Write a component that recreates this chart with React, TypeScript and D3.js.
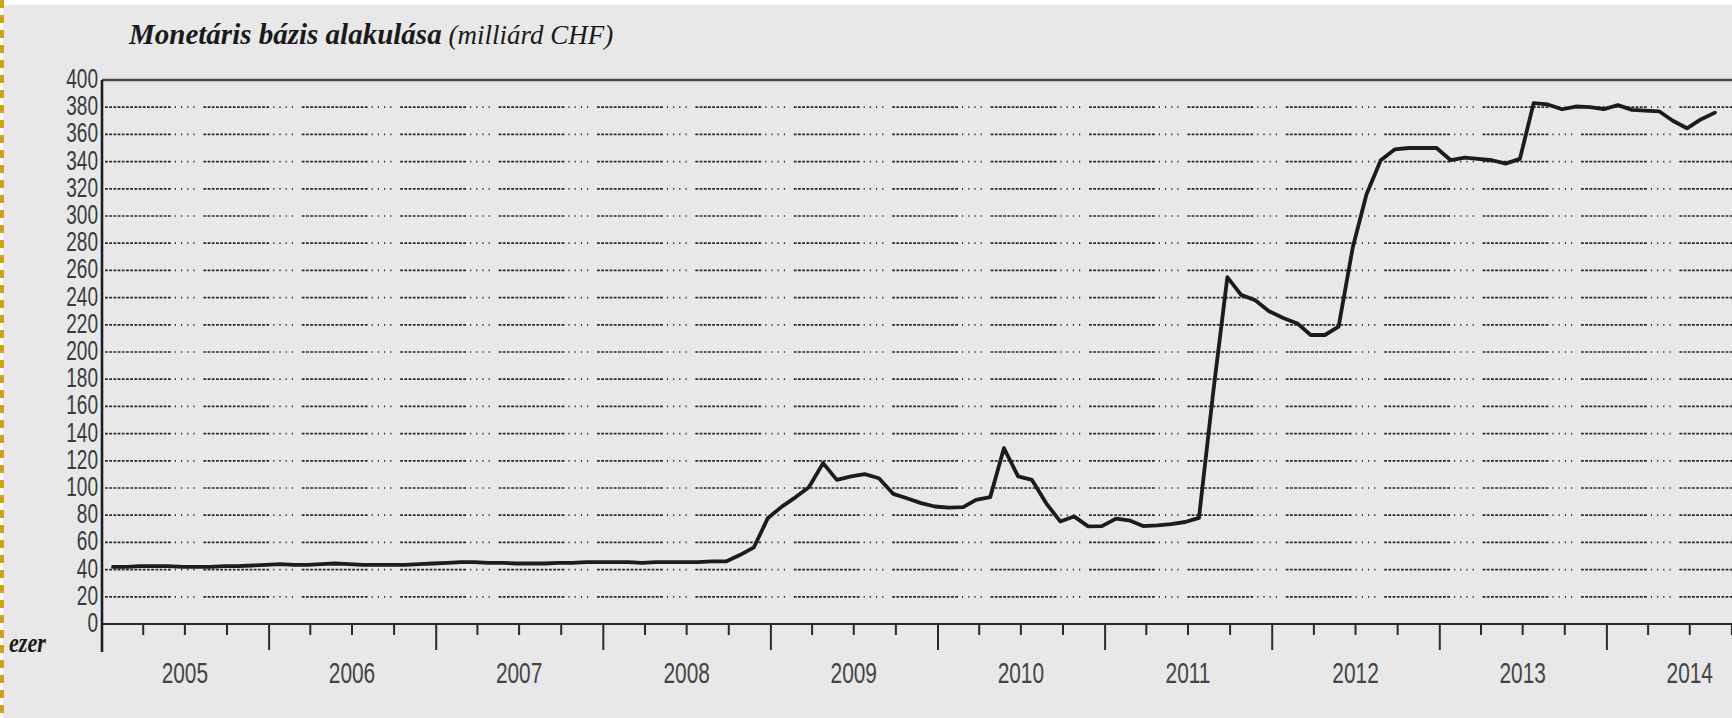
import React from 'react';
import * as d3 from 'd3';

// Monthly values, Jan 2005 .. Aug 2014 (milliárd CHF)
const values2005 = [42, 42, 42.5, 42.5, 42.5, 42, 42, 42, 42.5, 42.5, 43, 43.5];
const values2006 = [44, 43.5, 43.5, 44, 44.5, 44, 43.5, 43.5, 43.5, 43.5, 44, 44.5];
const values2007 = [45, 45.5, 45.5, 45, 45, 44.5, 44.5, 44.5, 45, 45, 45.5, 45.5];
const values2008 = [45.5, 45.5, 45, 45.5, 45.5, 45.5, 45.5, 46, 46, 50.7, 56.4, 77.7];
const values2009 = [86.3, 93.5, 100.5, 118.3, 106, 108.5, 110.2, 107.2, 95.7, 92.5, 88.9, 86.4];
const values2010 = [85.5, 85.9, 91.3, 93.3, 129.3, 108.5, 106, 88.9, 75.4, 79.1, 71.8, 72];
const values2011 = [77.5, 76, 72, 72.5, 73.5, 75, 78, 170, 255, 242, 238, 230];
const values2012 = [225, 221, 212.5, 212.5, 218.6, 277, 316, 341, 349, 350, 350, 350];
const values2013 = [341, 343, 342, 341, 338.5, 342, 383, 382, 378.5, 380.5, 380, 378.5];
const values2014 = [381.5, 378, 377.5, 377, 370, 364.5, 371, 376];

const values = [
  ...values2005, ...values2006, ...values2007, ...values2008, ...values2009,
  ...values2010, ...values2011, ...values2012, ...values2013, ...values2014,
];

const years = [2005, 2006, 2007, 2008, 2009, 2010, 2011, 2012, 2013, 2014];
const yTicks = [0, 20, 40, 60, 80, 100, 120, 140, 160, 180, 200, 220, 240, 260, 280, 300, 320, 340, 360, 380, 400];
const gridValues = yTicks.filter((v) => v > 0 && v < 400);

const W = 1732;
const H = 718;
const left = 102;
const top = 80;
const bottom = 624;
const yearWidth = 167.2;

const x = d3
  .scaleTime()
  .domain([new Date(2005, 0, 1), new Date(2015, 0, 1)])
  .range([left, left + yearWidth * 10]);
const y = d3.scaleLinear().domain([0, 400]).range([bottom, top]);

const line = d3
  .line<number>()
  .x((_, i) => x(new Date(2005, i, 25)))
  .y((d) => y(d))
  .curve(d3.curveLinear);

const quarterTicks = d3.timeMonth
  .every(3)!
  .range(new Date(2005, 3, 1), new Date(2015, 0, 1));

// grid dash pattern: run of fine dashes then a few dots
const dashParts: number[] = [];
for (let k = 0; k < 16; k++) dashParts.push(2.8, k === 15 ? 4 : 1.4);
for (let k = 0; k < 4; k++) dashParts.push(1.2, k === 3 ? 8.8 : 5);
const gridDash = dashParts.join(',');

export default function App() {
  return (
    <svg
      width={W}
      height={H}
      style={{ position: 'absolute', left: 0, top: 0, display: 'block' }}
    >
      <rect x={0} y={0} width={W} height={H} fill="#ffffff" />
      <rect x={3} y={5} width={W - 3} height={H - 5} fill="#e8e8e9" />
      <line x1={2} y1={0} x2={2} y2={H} stroke="#c9a227" strokeWidth={4} strokeDasharray="8,7" />

      <text x={129} y={44} fontFamily="'Liberation Serif', 'Times New Roman', serif" fill="#1a1a1a">
        <tspan fontWeight="bold" fontStyle="italic" fontSize={29}>Monetáris bázis alakulása</tspan>
        <tspan fontStyle="italic" fontSize={27}> (milliárd CHF)</tspan>
      </text>

      {gridValues.map((v) => (
        <line
          key={'g' + v}
          x1={left + 3}
          x2={W}
          y1={y(v)}
          y2={y(v)}
          stroke="#2a2a2a"
          strokeWidth={1.7}
          strokeDasharray={gridDash}
        />
      ))}

      <line x1={left} x2={W} y1={top} y2={top} stroke="#4a4a4a" strokeWidth={2.5} />
      <line x1={left} x2={W} y1={bottom} y2={bottom} stroke="#2a2a2a" strokeWidth={2.2} />
      <line x1={left} x2={left} y1={top} y2={652} stroke="#1e1e1e" strokeWidth={2.6} />

      {quarterTicks.map((d, i) => {
        const major = d.getMonth() === 0;
        return (
          <line
            key={'t' + i}
            x1={x(d)}
            x2={x(d)}
            y1={bottom}
            y2={major ? 650 : 635}
            stroke="#2a2a2a"
            strokeWidth={2}
          />
        );
      })}

      {yTicks.map((v) => (
        <text
          key={'yl' + v}
          transform={`translate(98,${y(v) + 8}) scale(0.68,1)`}
          textAnchor="end"
          fontFamily="'Liberation Sans', Arial, sans-serif"
          fontSize={28}
          fill="#3a3a3a"
        >
          {v}
        </text>
      ))}

      {years.map((yr) => (
        <text
          key={'yr' + yr}
          transform={`translate(${x(new Date(yr, 6, 1))},683) scale(0.72,1)`}
          textAnchor="middle"
          fontFamily="'Liberation Sans', Arial, sans-serif"
          fontSize={29}
          fill="#444444"
        >
          {yr}
        </text>
      ))}

      <text
        transform="translate(9,652) scale(0.82,1)"
        fontFamily="'Liberation Serif', 'Times New Roman', serif"
        fontSize={27}
        fontWeight="bold"
        fontStyle="italic"
        fill="#1a1a1a"
      >
        ezer
      </text>

      <path
        d={line(values) || ''}
        fill="none"
        stroke="#1c1c1c"
        strokeWidth={3.8}
        strokeLinejoin="round"
        strokeLinecap="round"
      />
    </svg>
  );
}
